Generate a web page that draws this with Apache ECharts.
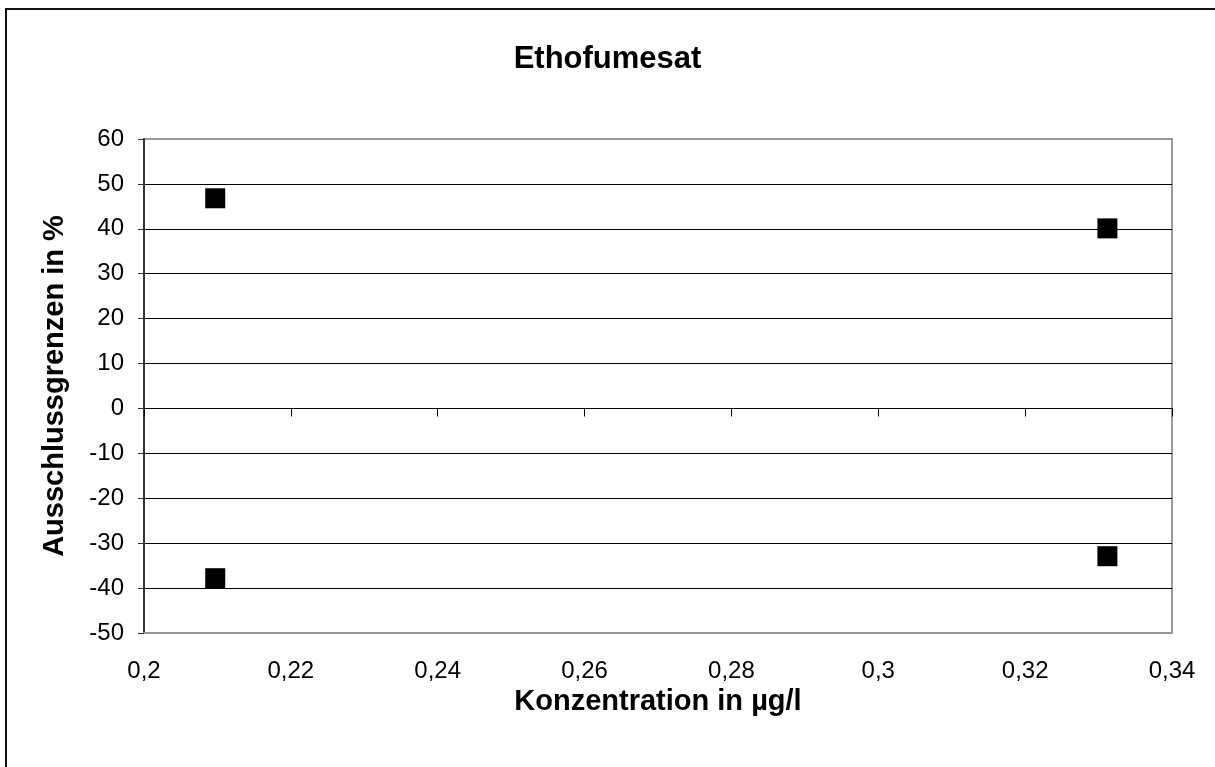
<!DOCTYPE html>
<html>
<head>
<meta charset="utf-8">
<script src="https://cdn.jsdelivr.net/npm/echarts@6/dist/echarts.min.js"></script>
<style>
html,body{margin:0;padding:0;background:#fff;}
#chart{width:1215px;height:767px;}
</style>
</head>
<body>
<div id="chart"></div>
<script>
// Data
const chartTitle = 'Ethofumesat';
const xTitle = 'Konzentration in µg/l';
const yTitle = 'Ausschlussgrenzen in %';
const concentrations = [0.2097, 0.2097, 0.3312, 0.3312];
const limits = [46.8, -37.8, 40.1, -32.9];
const xMin = 0.2, xMax = 0.34, xStep = 0.02;
const yMin = -50, yMax = 60, yStep = 10;

const FONT = '"Liberation Sans", Arial, sans-serif';
const points = concentrations.map((c, i) => [c, limits[i]]);
const fmtX = v => String(Math.round(v * 100) / 100).replace('.', ',');

const nLines = Math.round((yMax - yMin) / yStep) + 1;
const splitColors = [];
for (let i = 0; i < nLines; i++) splitColors.push(i === 0 || i === nLines - 1 ? '#999' : '#000');

const chart = echarts.init(document.getElementById('chart'), null, {renderer: 'canvas'});
chart.setOption({
  animation: false,
  backgroundColor: '#fff',
  title: {
    text: chartTitle,
    left: 'center',
    top: 39,
    textStyle: {fontFamily: FONT, fontSize: 31, fontWeight: 'bold', color: '#000'}
  },
  graphic: [{
    type: 'rect',
    shape: {x: 6, y: 9, width: 1300, height: 900},
    style: {fill: 'none', stroke: '#111', lineWidth: 2},
    silent: true
  }],
  grid: {
    left: 144, right: 43, top: 139, bottom: 134,
    show: true, borderColor: '#999', borderWidth: 2, backgroundColor: '#fff'
  },
  xAxis: [{
    type: 'value', min: xMin, max: xMax, interval: xStep,
    position: 'bottom',
    name: xTitle, nameLocation: 'middle', nameGap: 61,
    nameTextStyle: {fontFamily: FONT, fontSize: 29, fontWeight: 'bold', color: '#000', verticalAlign: 'middle'},
    axisLine: {show: true, onZero: false, lineStyle: {color: '#999', width: 2}},
    axisTick: {show: false},
    splitLine: {show: false},
    axisLabel: {fontFamily: FONT, fontSize: 24, color: '#000', margin: 26, formatter: fmtX}
  }, {
    type: 'value', min: xMin, max: xMax, interval: xStep,
    position: 'top',
    axisLine: {show: true, onZero: true, lineStyle: {color: '#000', width: 1}},
    axisTick: {show: true, inside: true, length: 8, lineStyle: {color: '#000', width: 1}},
    splitLine: {show: false},
    axisLabel: {show: false}
  }],
  yAxis: {
    type: 'value', min: yMin, max: yMax, interval: yStep,
    name: yTitle, nameLocation: 'middle', nameGap: 89, nameRotate: 90,
    nameTextStyle: {fontFamily: FONT, fontSize: 29, fontWeight: 'bold', color: '#000', verticalAlign: 'middle'},
    axisLine: {show: true, lineStyle: {color: '#333', width: 2}},
    axisTick: {show: true, length: 6, lineStyle: {color: '#333', width: 1}},
    splitLine: {show: true, lineStyle: {color: splitColors, width: 1}},
    axisLabel: {fontFamily: FONT, fontSize: 24, color: '#000', margin: 20}
  },
  series: [{
    type: 'scatter',
    xAxisIndex: 0,
    data: points,
    symbol: 'rect',
    symbolSize: 20,
    itemStyle: {color: '#000', borderWidth: 0, opacity: 1},
    z: 5
  }]
});
</script>
</body>
</html>
